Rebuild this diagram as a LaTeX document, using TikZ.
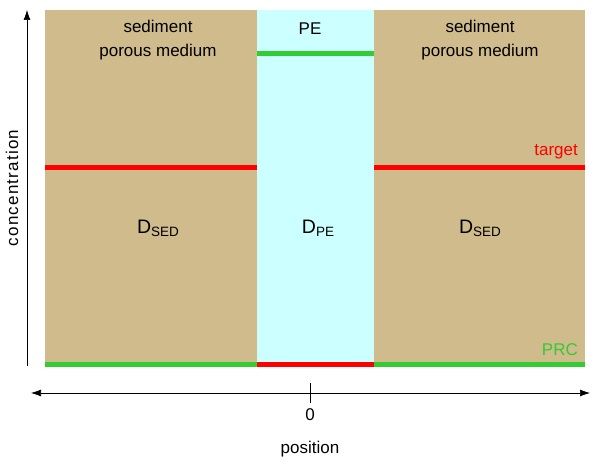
\documentclass[tikz,border=0pt]{standalone}
\usepackage{fontspec}
\setmainfont{Liberation Sans}
\usetikzlibrary{arrows.meta}
\definecolor{sable}{RGB}{207,187,139}
\definecolor{cyanpale}{RGB}{204,255,255}
\definecolor{vert}{RGB}{51,204,51}
\begin{document}
\begin{tikzpicture}[x=1pt,y=-1pt]
\tikzstyle{texte} = [font=\fontsize{17}{19}\selectfont,inner sep=0pt];
\tikzstyle{ligne} = [line width=5pt] ;
\tikzstyle{fleche} = [>={Latex[length=10pt,width=7pt]},line width=0.6pt] ;

\useasboundingbox (0,0) rectangle (597,462);

\fill[sable] (45,10) rectangle (257,366);
\fill[cyanpale] (257,10) rectangle (374,366);
\fill[sable] (374,10) rectangle (585,366);

% niveaux
\foreach \a/\b in {45/257,374/585}{
	\draw[ligne,red] (\a,168) -- (\b,168);
	\draw[ligne,vert] (\a,364.5) -- (\b,364.5);
}
\draw[ligne,vert] (257,54) -- (374,54);
\draw[ligne,red] (257,364.5) -- (374,364.5);

% axes
\coordinate (yb) at (27,366);
\coordinate (yh) at (27,10);
\coordinate (xg) at (31,393);
\coordinate (xd) at (590,393);
\draw[->,fleche] (yb) -- (yh);
\draw[<->,fleche] (xg) -- (xd);
\coordinate (t1) at (310,383);
\coordinate (t2) at (310,403);
\draw[line width=0.6pt] (t1) -- (t2);

\node[texte,rotate=90] (conc) at (12,188) {\addfontfeature{LetterSpace=7}concentration};
\node[texte] (zero) at (310,415) {0};
\node[texte] (pos) at (310,449) {position};

\node[texte,align=center] (sedg) at (158,40.5) {sediment\\[5pt]porous medium};
\node[texte,align=center] (sedd) at (480,40.5) {sediment\\[5pt]porous medium};
\node[texte] (pe) at (310,29) {PE};

\node[texte] (dg) at (158,228) {\fontsize{19.5}{20}\selectfont D\raisebox{-3pt}{\fontsize{13.5}{14}\selectfont SED}};
\node[texte] (dpe) at (318,228) {\fontsize{19.5}{20}\selectfont D\raisebox{-3pt}{\fontsize{13.5}{14}\selectfont PE}};
\node[texte] (dd) at (480,228) {\fontsize{19.5}{20}\selectfont D\raisebox{-3pt}{\fontsize{13.5}{14}\selectfont SED}};

\node[texte,red,anchor=east] (cible) at (578,152) {target};
\node[texte,vert,anchor=east] (prc) at (578,350) {PRC};

\end{tikzpicture}
\end{document}
